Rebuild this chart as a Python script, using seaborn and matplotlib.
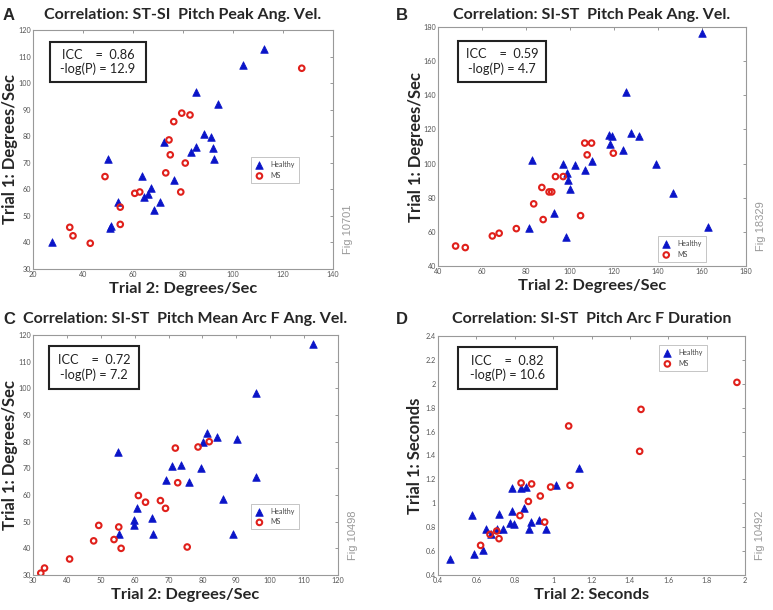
import numpy as np
import pandas as pd
import matplotlib
matplotlib.use("Agg")
import matplotlib.pyplot as plt
import seaborn as sns
from matplotlib.patches import Rectangle

sns.set_style("white")
plt.rcParams["font.family"] = ["Lato", "DejaVu Sans"]

# ---- data ----
# A: ST-SI pitch peak angular velocity (deg/s)
a_healthy_x = [27.6, 50.0, 63.7, 54.0, 50.7, 51.3, 64.3, 66.0, 67.3, 68.3, 70.7, 72.3,
               76.4, 85.1, 85.3, 83.3, 88.4, 91.3, 92.1, 92.4, 93.9, 103.9, 112.3]
a_healthy_y = [40.2, 71.6, 65.2, 55.1, 45.4, 46.3, 57.2, 58.2, 60.5, 52.3, 55.3, 77.8,
               63.7, 96.7, 75.8, 74.2, 80.9, 79.8, 75.5, 71.4, 92.0, 106.8, 112.7]
a_ms_x = [34.7, 36.0, 42.9, 48.8, 54.9, 54.9, 60.7, 62.7, 73.1, 74.4, 74.9, 76.3,
          79.5, 80.9, 82.8, 79.1, 127.5]
a_ms_y = [45.7, 42.5, 39.7, 64.8, 53.3, 46.8, 58.5, 59.0, 66.2, 78.6, 73.0, 85.5,
          88.7, 69.9, 88.0, 59.0, 105.6]

# B: SI-ST pitch peak angular velocity (deg/s)
b_healthy_x = [160.1, 125.5, 82.5, 96.7, 102.2, 98.7, 99.3, 100.2, 106.6, 110.2, 117.7,
               119.3, 118.0, 124.2, 127.5, 131.5, 138.9, 146.9, 162.6, 92.8, 81.3, 98.4]
b_healthy_y = [176.3, 141.7, 102.2, 99.6, 99.1, 94.6, 90.6, 85.2, 96.3, 101.6, 117.0,
               116.3, 111.6, 107.7, 118.2, 115.9, 99.8, 82.6, 63.1, 71.3, 62.3, 57.2]
b_ms_x = [48.0, 52.4, 64.7, 67.8, 75.6, 83.5, 87.8, 87.2, 90.5, 91.7, 93.4, 96.9,
          104.8, 106.7, 109.8, 107.8, 119.7]
b_ms_y = [51.7, 50.8, 57.6, 59.2, 61.9, 76.4, 67.2, 86.0, 83.4, 83.4, 92.4, 92.4,
          69.5, 112.0, 112.0, 105.1, 106.1]

# C: SI-ST pitch mean arc F angular velocity (deg/s)
c_healthy_x = [112.5, 95.7, 95.7, 55.0, 81.3, 80.2, 84.2, 90.3, 71.1, 73.7, 79.6,
               69.3, 76.1, 86.0, 60.8, 59.7, 59.7, 65.2, 55.4, 65.4, 89.0]
c_healthy_y = [116.6, 98.4, 66.6, 76.0, 83.4, 79.9, 81.9, 81.1, 71.0, 71.4, 70.2,
               65.5, 64.8, 58.6, 55.2, 50.6, 48.6, 51.2, 45.3, 45.3, 45.2]
c_ms_x = [32.3, 33.4, 40.8, 47.9, 49.4, 53.9, 55.3, 56.0, 61.1, 63.2, 67.6, 69.1,
          72.0, 72.7, 75.5, 78.7, 82.0]
c_ms_y = [30.7, 32.6, 36.0, 42.8, 48.6, 43.3, 48.0, 40.0, 59.8, 57.3, 57.9, 55.0,
          77.6, 64.6, 40.5, 78.0, 80.0]

# D: SI-ST pitch arc F duration (s)
d_healthy_x = [0.463, 0.586, 0.577, 0.633, 0.648, 0.678, 0.707, 0.716, 0.740, 0.777,
               0.786, 0.798, 0.784, 0.833, 0.857, 0.846, 0.872, 0.886, 0.925, 0.963,
               1.017, 1.133]
d_healthy_y = [0.531, 0.579, 0.899, 0.606, 0.788, 0.740, 0.788, 0.913, 0.788, 0.838,
               0.938, 0.827, 1.128, 1.128, 1.136, 0.961, 0.788, 0.843, 0.857, 0.782,
               1.150, 1.298]
d_ms_x = [0.622, 0.671, 0.706, 0.718, 0.827, 0.833, 0.871, 0.888, 0.933, 0.956,
          0.987, 1.081, 1.088, 1.451, 1.458, 1.958]
d_ms_y = [0.648, 0.740, 0.768, 0.704, 0.897, 1.170, 1.016, 1.162, 1.061, 0.843,
          1.136, 1.647, 1.150, 1.435, 1.786, 2.012]

letters = ["A", "B", "C", "D"]
titles = ["Correlation: ST-SI  Pitch Peak Ang. Vel.",
          "Correlation: SI-ST  Pitch Peak Ang. Vel.",
          "Correlation: SI-ST  Pitch Mean Arc F Ang. Vel.",
          "Correlation: SI-ST  Pitch Arc F Duration"]
icc = ["0.86", "0.59", "0.72", "0.82"]
logp = ["12.9", "4.7", "7.2", "10.6"]
fig_ids = ["Fig 10701", "Fig 18329", "Fig 10498", "Fig 10492"]
units = ["Degrees/Sec", "Degrees/Sec", "Degrees/Sec", "Seconds"]
xlims = [(20, 140), (40, 180), (30, 120), (0.4, 2.0)]
ylims = [(30, 120), (40, 180), (30, 120), (0.4, 2.4)]
xsteps = [20, 20, 10, 0.2]
ysteps = [10, 20, 10, 0.2]

panels = [(a_healthy_x, a_healthy_y, a_ms_x, a_ms_y),
          (b_healthy_x, b_healthy_y, b_ms_x, b_ms_y),
          (c_healthy_x, c_healthy_y, c_ms_x, c_ms_y),
          (d_healthy_x, d_healthy_y, d_ms_x, d_ms_y)]

W, H = 773, 610
# axes boxes in pixels: left, top, right, bottom
boxes = [(33, 30, 333, 269), (438, 27, 746, 266), (33, 335, 338, 575), (438, 336, 745, 575)]
legend_pos = [(0.727, 0.36), (0.714, 0.017), (0.715, 0.19), (0.72, 0.854)]
# ICC boxes in pixels: left, top, right, bottom
icc_boxes = [(50, 42, 146, 82), (458, 41, 546, 82), (49, 346, 139, 389), (458, 347, 557, 389)]

fig = plt.figure(figsize=(W / 100, H / 100), dpi=100)
blue = "#0a14c8"
red = "#e0201b"

def fmt(v):
    return f"{v:g}"

for i, (hx, hy, mx, my) in enumerate(panels):
    l, t, r, b = boxes[i]
    ax = fig.add_axes([l / W, 1 - b / H, (r - l) / W, (b - t) / H])
    dh = pd.DataFrame({"x": hx, "y": hy})
    dm = pd.DataFrame({"x": mx, "y": my})
    sns.scatterplot(data=dh, x="x", y="y", ax=ax, marker="^", s=30, color=blue,
                    edgecolor=blue, linewidth=0.5, label="Healthy")
    sns.scatterplot(data=dm, x="x", y="y", ax=ax, marker="o", s=16, facecolor="none",
                    edgecolor=red, linewidth=1.5, label="MS")
    ax.set_xlim(*xlims[i])
    ax.set_ylim(*ylims[i])
    xt = np.round(np.arange(xlims[i][0], xlims[i][1] + 1e-9, xsteps[i]), 2)
    yt = np.round(np.arange(ylims[i][0], ylims[i][1] + 1e-9, ysteps[i]), 2)
    ax.set_xticks(xt)
    ax.set_xticklabels([fmt(v) for v in xt])
    ax.set_yticks(yt)
    ax.set_yticklabels([fmt(v) for v in yt])
    ax.tick_params(direction="in", length=2.5, width=0.6, colors="#888888",
                   labelsize=5.2, labelcolor="#555555", top=True, right=True, pad=1.5)
    for sp in ax.spines.values():
        sp.set_color("#999999")
        sp.set_linewidth(0.8)
    ax.set_xlabel("Trial 2: " + units[i], fontsize=11.8, fontweight="bold", labelpad=3)
    ax.set_ylabel("Trial 1: " + units[i], fontsize=12, fontweight="bold", va="center")
    ax.yaxis.set_label_coords(-22.5 / (r - l), 0.5)
    leg = ax.legend(loc="lower left", bbox_to_anchor=legend_pos[i], fontsize=5,
                    frameon=True, fancybox=False, borderpad=0.6, handlelength=1.2,
                    labelspacing=0.5, handletextpad=1.0, borderaxespad=0)
    leg.get_frame().set_edgecolor("#aaaaaa")
    leg.get_frame().set_linewidth(0.6)
    for txt in leg.get_texts():
        txt.set_color("#444444")
    # ICC annotation box
    bl, bt, br, bb = icc_boxes[i]
    fx0, fx1 = (bl - l) / (r - l), (br - l) / (r - l)
    fy0, fy1 = (b - bb) / (b - t), (b - bt) / (b - t)
    ax.add_patch(Rectangle((fx0, fy0), fx1 - fx0, fy1 - fy0, transform=ax.transAxes,
                           facecolor="white", edgecolor="#222222", linewidth=1.5,
                           zorder=5))
    ax.text((fx0 + fx1) / 2, (fy0 + fy1) / 2,
            f"ICC    =  {icc[i]}\n-log(P) = {logp[i]}",
            transform=ax.transAxes, ha="center", va="center", fontsize=9.2,
            color="#222222", linespacing=1.2, zorder=6)
    # title and panel letter in figure pixels
    ty = 15 if i < 2 else 319
    fig.text((l + r) / 2 / W if i != 2 else 185 / W, 1 - ty / H, titles[i],
             ha="center", va="center", fontsize=11.5, fontweight="bold")
    lx = 3 if i % 2 == 0 else 396
    fig.text(lx / W, 1 - ty / H, letters[i], ha="left", va="center",
             fontsize=12, fontweight="bold", family=["Liberation Sans", "DejaVu Sans"])
    fig.text((r + 15) / W, 1 - (b - 40) / H, fig_ids[i], rotation=90, ha="center",
             va="center", fontsize=8, color="#999999",
             family=["Liberation Sans", "DejaVu Sans"])

fig.savefig("out.png", dpi=100)
